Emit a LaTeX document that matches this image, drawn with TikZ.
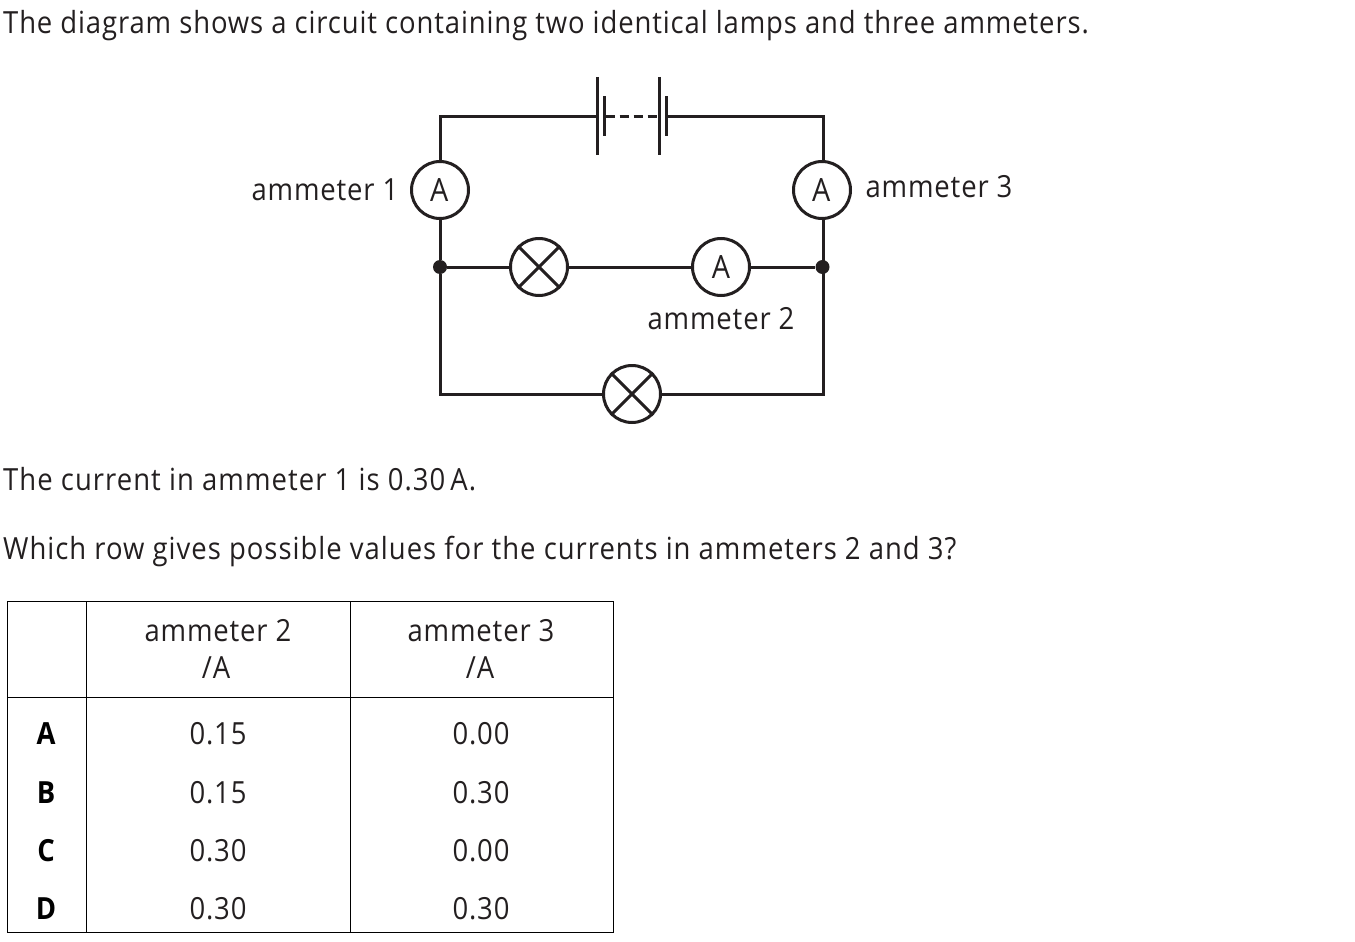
\documentclass[tikz,border=0pt]{standalone}
\usepackage{fontspec}
\setmainfont{Open Sans}[BoldFont={Open Sans Bold},LetterSpace=2.8,FakeStretch=0.9]
\usetikzlibrary{calc}
\definecolor{ink}{HTML}{231F20}
\tikzset{
 wire/.style={line width=3pt,color=ink},
 meter/.style={circle,draw=ink,line width=3pt,fill=white,minimum size=57pt,inner sep=0pt,text=ink,font=\fontsize{32}{36}\selectfont},
 lampnode/.style={circle,draw=ink,line width=3pt,fill=white,minimum size=57pt,inner sep=0pt},
 jdot/.style={circle,fill=ink,minimum size=14pt,inner sep=0pt},
 txt/.style={anchor=base west,inner sep=0pt,text=ink,font=\fontsize{30.5}{35}\selectfont},
 lbl/.style={anchor=base,inner sep=0pt,text=ink,font=\fontsize{30.5}{35}\selectfont},
 rowl/.style={anchor=base,inner sep=0pt,text=black,font=\fontsize{30.5}{35}\selectfont\bfseries},
 rule/.style={line width=1pt,color=black},
 plate/.style={line width=3.4pt,color=ink}
}
\begin{document}
\begin{tikzpicture}[x=1pt,y=-1pt]
\useasboundingbox (0,0) rectangle (1355,942);
\node[txt] (t1) at (3,33.5) {\addfontfeature{LetterSpace=2.92}The diagram shows a circuit containing two identical lamps and three ammeters.};
\node[txt] (t2) at (3,490) {\addfontfeature{LetterSpace=3.45}The current in ammeter 1 is 0.30\,A.};
\node[txt] (t3) at (3,559.5) {\addfontfeature{LetterSpace=3.3}Which row gives possible values for the currents in ammeters 2 and 3?};
% circuit corners
\coordinate (tl) at (440,116);
\coordinate (tr) at (823,116);
\coordinate (bl) at (440,394);
\coordinate (br) at (823,394);
\coordinate (p1) at (597.5,116);
\coordinate (p2) at (604.5,116);
\coordinate (p3) at (659.5,116);
\coordinate (p4) at (666.5,116);
\node[jdot] (j1) at (440,267) {};
\node[jdot] (j2) at (822.5,267) {};
\node[meter] (a1) at (440,190) {A\kern1.5pt};
\node[meter] (a3) at (822,190) {A\kern1.5pt};
\node[meter] (a2) at (721,267) {A};
\node[lampnode] (l1) at (539,267) {};
\node[lampnode] (l2) at (632,394) {};
\draw[wire] (a1) -- (tl) -- (p1);
\draw[wire] (p4) -- (tr) -- (a3.north -| tr);
\draw[wire] (a1) -- (j1);
\draw[wire] (a3.south -| tr) -- (j2.center -| tr);
\draw[wire] (j1) -- (l1);
\draw[wire] (l1) -- (a2);
\draw[wire] (a2) -- (j2);
\draw[wire] (j1) -- (bl) -- (l2);
\draw[wire] (l2) -- (br) -- (j2.center -| br);
\draw[plate] ($(p1)+(0,-39)$) -- ($(p1)+(0,39)$);
\draw[plate] ($(p2)+(0,-20)$) -- ($(p2)+(0,20)$);
\draw[plate] ($(p3)+(0,-39)$) -- ($(p3)+(0,39)$);
\draw[plate] ($(p4)+(0,-20)$) -- ($(p4)+(0,20)$);
\draw[wire,dash pattern=on 9pt off 5pt,dash phase=-1pt] (p2) -- (p3);
\draw[wire] (l1.north west) -- (l1.south east);
\draw[wire] (l1.north east) -- (l1.south west);
\draw[wire] (l2.north west) -- (l2.south east);
\draw[wire] (l2.north east) -- (l2.south west);
\node[lbl] (n1) at (325,200) {ammeter 1};
\node[lbl] (n3) at (939,197) {ammeter 3};
\node[lbl] (n2) at (721,329) {ammeter 2};
% table
\coordinate (r1) at (7,601.5);
\coordinate (r2) at (613,932.5);
\draw[rule] (r1 |- r2) -- (r1) -- (r1 -| r2) -- (r2) -- (351,932.5);
\draw[rule] (7,932.5) -- (349.5,932.5);
\draw[rule] (86.5,601.5) -- (86.5,932.5);
\draw[rule] (350,601.5) -- (350,932.5);
\draw[rule] (7,697.5) -- (613,697.5);
\node[lbl] (h2) at (218,641.5) {ammeter 2};
\node[lbl] (h2b) at (216,678) {/A};
\node[lbl] (h3) at (481,641.5) {ammeter 3};
\node[lbl] (h3b) at (480,678) {/A};
\node[rowl] (ra) at (46,744) {A};
\node[rowl] (rb) at (46,803) {B};
\node[rowl] (rc) at (46,861) {C};
\node[rowl] (rd) at (46,919) {D};
\node[lbl] (a21) at (218,744) {0.15};
\node[lbl] (a22) at (218,803) {0.15};
\node[lbl] (a23) at (218,861) {0.30};
\node[lbl] (a24) at (218,919) {0.30};
\node[lbl] (a31) at (481,744) {0.00};
\node[lbl] (a32) at (481,803) {0.30};
\node[lbl] (a33) at (481,861) {0.00};
\node[lbl] (a34) at (481,919) {0.30};
\end{tikzpicture}
\end{document}
